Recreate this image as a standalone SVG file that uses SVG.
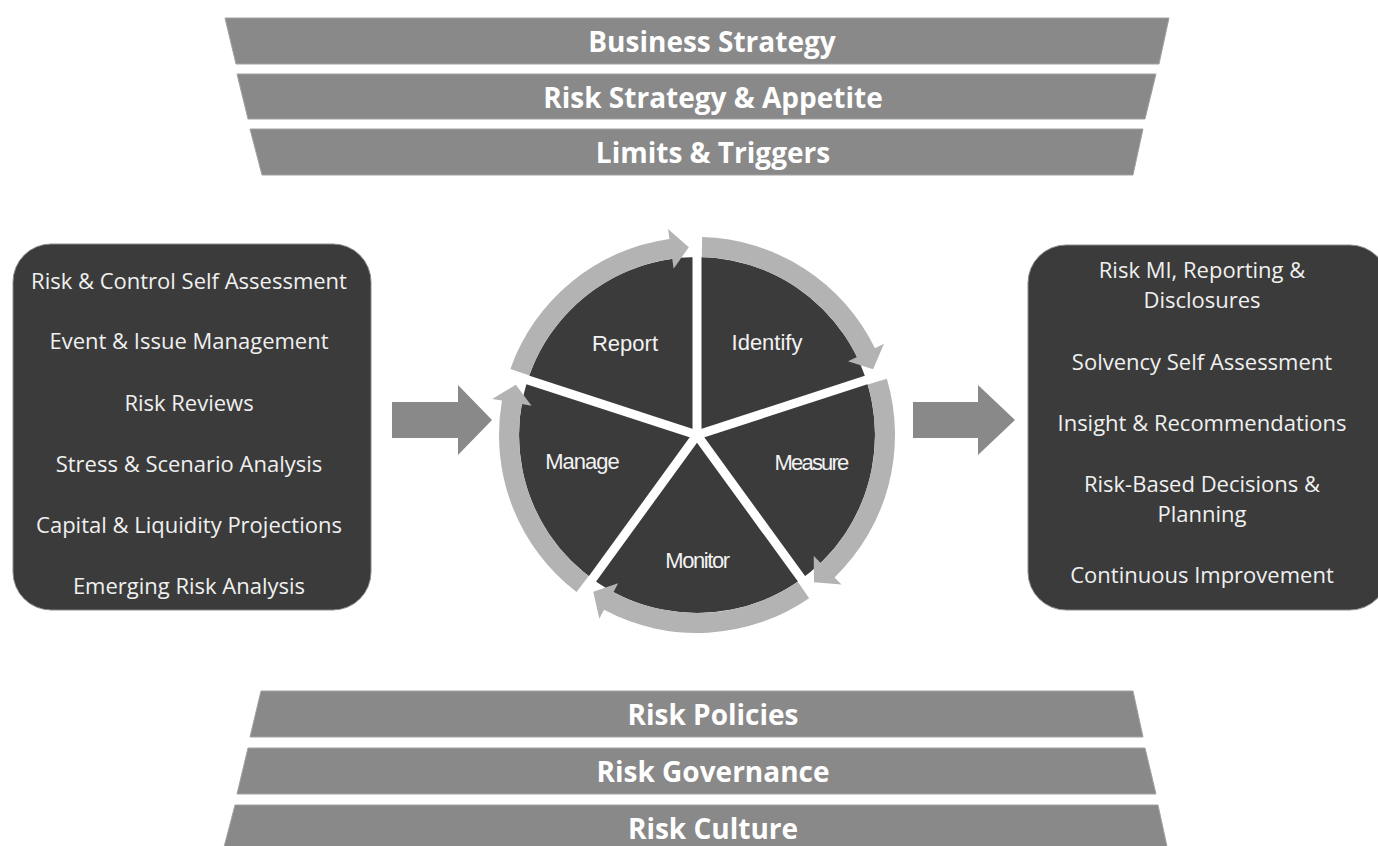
<svg xmlns="http://www.w3.org/2000/svg" width="1378" height="846" viewBox="0 0 1378 846">
<style>
.banner{fill:#898989;stroke:#a2a2a2;stroke-width:1}
.btxt{font-family:"Open Sans","Liberation Sans",sans-serif;font-weight:bold;font-size:28px;fill:#ffffff;text-anchor:middle}
.box{fill:#3b3b3b;stroke:#8c8c8c;stroke-width:1}
.ltxt{font-family:"Open Sans","Liberation Sans",sans-serif;font-size:22px;fill:#f0f0f0;text-anchor:middle}
.ring{fill:#b3b3b3}
.pie{fill:#3b3b3b}
.spoke{stroke:#ffffff;stroke-width:9;stroke-linecap:butt}
.wtxt{font-family:"Liberation Sans",Arial,sans-serif;font-size:22px;fill:#f2f2f2;text-anchor:middle}
.conn{fill:#898989}
</style>
<rect width="1378" height="846" fill="#ffffff"/>

<g id="banner-business-strategy">
<polygon class="banner" points="225,18 1169,18 1159,64 236,64"/>
<text class="btxt" x="712" y="52">Business Strategy</text>
</g>
<g id="banner-risk-strategy">
<polygon class="banner" points="237,74 1156,74 1145,119 248,119"/>
<text class="btxt" x="713" y="108">Risk Strategy &amp; Appetite</text>
</g>
<g id="banner-limits">
<polygon class="banner" points="250,129 1143,129 1133,175 262,175"/>
<text class="btxt" x="713" y="163">Limits &amp; Triggers</text>
</g>

<g id="banner-risk-policies">
<polygon class="banner" points="261,691 1133,691 1143,737 250,737"/>
<text class="btxt" x="713" y="725">Risk Policies</text>
</g>
<g id="banner-risk-governance">
<polygon class="banner" points="248,748 1145,748 1156,794 237,794"/>
<text class="btxt" x="713" y="782">Risk Governance</text>
</g>
<g id="banner-risk-culture">
<polygon class="banner" points="235,805 1158,805 1168,851 223,851"/>
<text class="btxt" x="713" y="839">Risk Culture</text>
</g>

<g id="inputs-box">
<rect class="box" x="13" y="244" width="358" height="366" rx="38" ry="38"/>
<text class="ltxt" x="189" y="289">Risk &amp; Control Self Assessment</text>
<text class="ltxt" x="189" y="349">Event &amp; Issue Management</text>
<text class="ltxt" x="189" y="411">Risk Reviews</text>
<text class="ltxt" x="189" y="472">Stress &amp; Scenario Analysis</text>
<text class="ltxt" x="189" y="533">Capital &amp; Liquidity Projections</text>
<text class="ltxt" x="189" y="594">Emerging Risk Analysis</text>
</g>

<g id="outputs-box">
<rect class="box" x="1028" y="245" width="360" height="365" rx="38" ry="38"/>
<text class="ltxt" x="1202" y="278">Risk MI, Reporting &amp;</text>
<text class="ltxt" x="1202" y="308">Disclosures</text>
<text class="ltxt" x="1202" y="370">Solvency Self Assessment</text>
<text class="ltxt" x="1202" y="431">Insight &amp; Recommendations</text>
<text class="ltxt" x="1202" y="492">Risk-Based Decisions &amp;</text>
<text class="ltxt" x="1202" y="522">Planning</text>
<text class="ltxt" x="1202" y="583">Continuous Improvement</text>
</g>

<g id="risk-cycle">
<circle class="pie" cx="697" cy="435" r="178"/>
<path class="ring" d="M702.18,237.07 A198,198 0 0 1 874.96,348.20 L883.95,343.82 L873.09,369.16 L848.00,361.35 L856.98,356.97 A178,178 0 0 0 701.66,257.06 Z"/>
<path class="ring" d="M886.85,378.76 A198,198 0 0 1 834.54,577.43 L841.49,584.62 L814.03,582.13 L813.70,555.85 L820.65,563.04 A178,178 0 0 0 867.67,384.44 Z"/>
<path class="ring" d="M809.15,598.18 A198,198 0 0 1 604.04,609.82 L599.35,618.65 L593.24,591.77 L618.13,583.34 L613.43,592.17 A178,178 0 0 0 797.82,581.70 Z"/>
<path class="ring" d="M576.47,592.08 A198,198 0 0 1 502.01,400.62 L492.16,398.88 L515.84,384.76 L531.55,405.83 L521.70,404.09 A178,178 0 0 0 588.64,576.22 Z"/>
<path class="ring" d="M510.36,368.91 A198,198 0 0 1 669.44,238.93 L668.05,229.02 L688.80,247.18 L673.62,268.63 L672.23,258.73 A178,178 0 0 0 529.21,375.58 Z"/>
<g id="spokes">
<line class="spoke" x1="697" y1="435" x2="697" y2="220"/>
<line class="spoke" x1="697" y1="435" x2="901.48" y2="368.56"/>
<line class="spoke" x1="697" y1="435" x2="823.37" y2="608.94"/>
<line class="spoke" x1="697" y1="435" x2="570.63" y2="608.94"/>
<line class="spoke" x1="697" y1="435" x2="492.52" y2="368.56"/>
</g>
<text class="wtxt" x="625" y="351">Report</text>
<text class="wtxt" x="767" y="350">Identify</text>
<text class="wtxt" x="811" y="470" letter-spacing="-1.8">Measure</text>
<text class="wtxt" x="697" y="568" letter-spacing="-1.4">Monitor</text>
<text class="wtxt" x="582" y="469" letter-spacing="-1">Manage</text>
</g>

<g id="connectors">
<polygon class="conn" points="392,402 458,402 458,385 492,420 458,455 458,438 392,438"/>
<polygon class="conn" points="913,402 978,402 978,385 1015,420 978,455 978,438 913,438"/>
</g>
</svg>
